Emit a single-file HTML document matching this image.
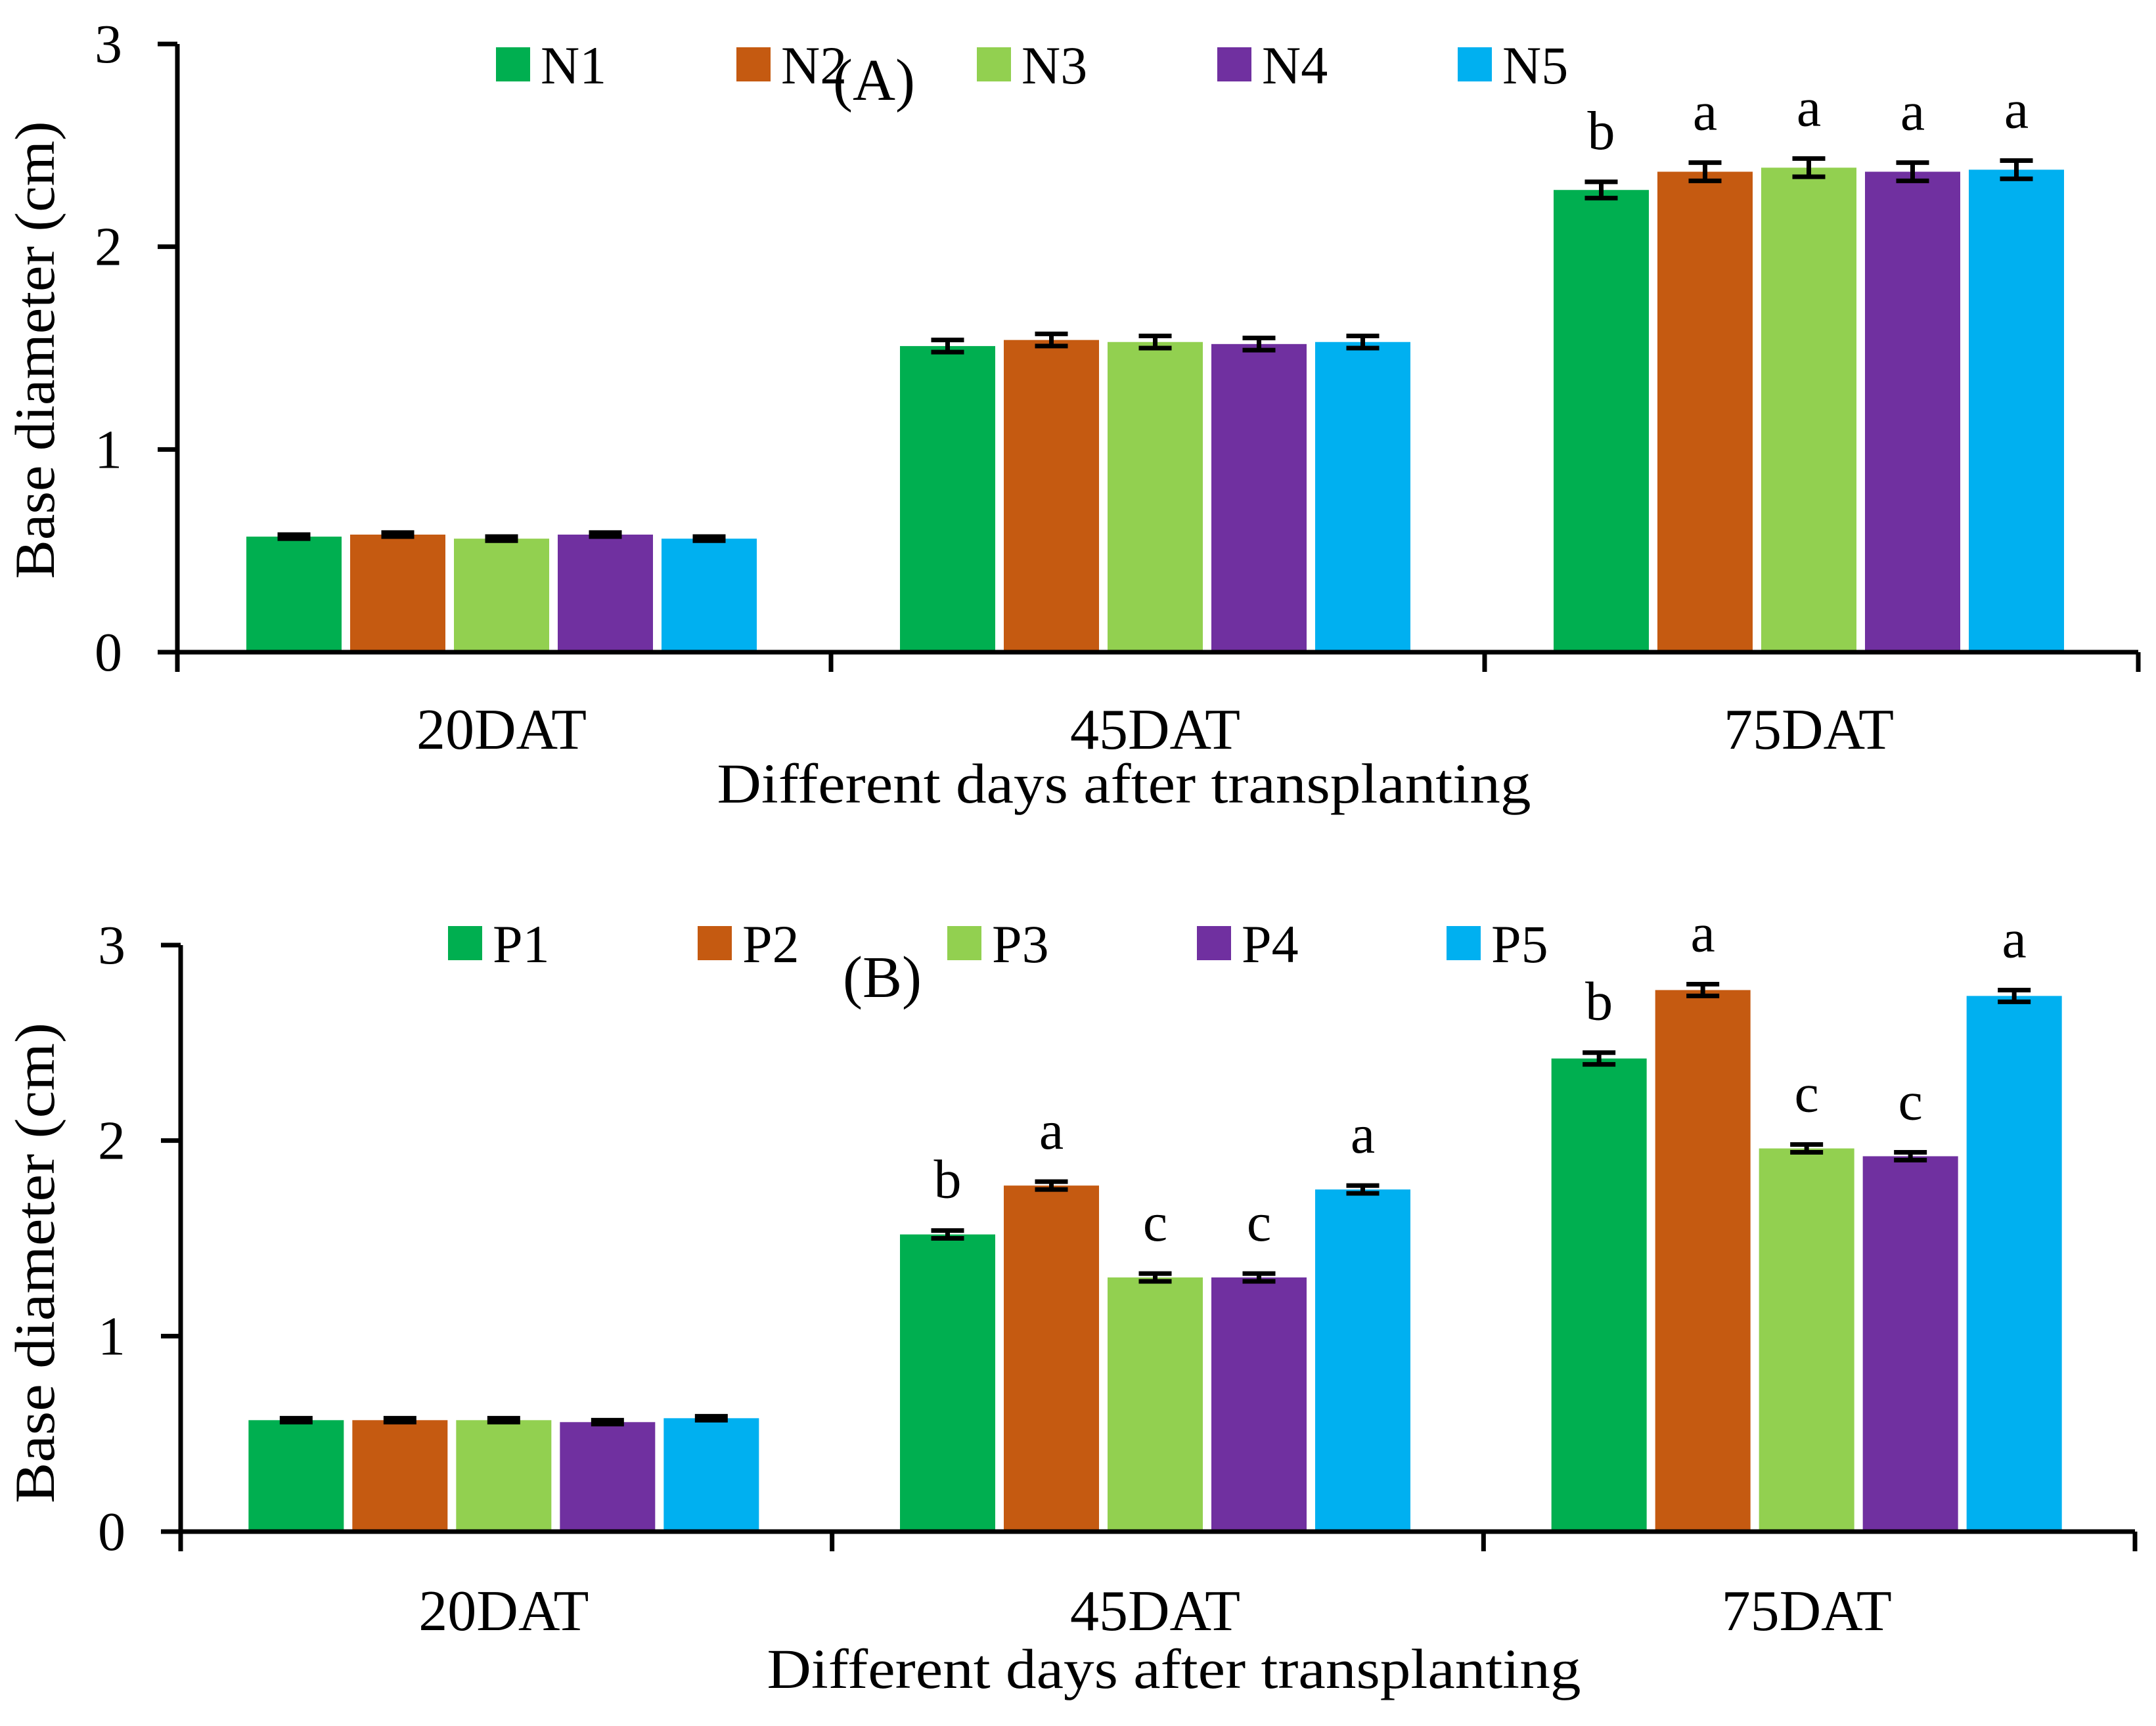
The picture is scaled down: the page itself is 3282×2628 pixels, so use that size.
<!DOCTYPE html>
<html><head><meta charset="utf-8"><style>
html,body{margin:0;padding:0;background:#fff;}
svg text{font-family:"Liberation Serif",serif;fill:#000;}
</style></head><body>
<svg id="chart" xmlns="http://www.w3.org/2000/svg" width="3282" height="2623" viewBox="0 0 3282 2623"></svg>
<script>
const categories = ["20DAT","45DAT","75DAT"];
const colors = ["#00AF50","#C55A11","#92D050","#7030A0","#00B0F0"];
const seriesA = ["N1","N2","N3","N4","N5"];
const valuesA = [[0.57,1.51,2.28],[0.58,1.54,2.37],[0.56,1.53,2.39],[0.58,1.52,2.37],[0.56,1.53,2.38]];
const errorsA = [[0.01,0.03,0.04],[0.01,0.03,0.045],[0.01,0.03,0.045],[0.01,0.03,0.045],[0.01,0.03,0.045]];
const lettersA = [["","","b"],["","","a"],["","","a"],["","","a"],["","","a"]];
const seriesB = ["P1","P2","P3","P4","P5"];
const valuesB = [[0.57,1.52,2.42],[0.57,1.77,2.77],[0.57,1.30,1.96],[0.56,1.30,1.92],[0.58,1.75,2.74]];
const errorsB = [[0.01,0.02,0.03],[0.01,0.02,0.03],[0.01,0.02,0.02],[0.01,0.02,0.02],[0.01,0.02,0.03]];
const lettersB = [["","b","b"],["","a","a"],["","c","c"],["","c","c"],["","a","a"]];
const yTicks = [0,1,2,3];

const NS="http://www.w3.org/2000/svg";
const svg=document.getElementById('chart');
function mk(tag,attrs,parent){const e=document.createElementNS(NS,tag);for(const k in attrs)e.setAttribute(k,attrs[k]);(parent||svg).appendChild(e);return e;}

function panel(p){
  const g=mk('g',{});
  
  
  const y=v=>p.y0-v*(p.y0-p.y3)/3;
  const catW=(p.xR-p.xL)/categories.length;
  const pitch=158, bw=145;
  for(let s=0;s<p.series.length;s++){
    for(let c=0;c<categories.length;c++){
      const cx=p.xL+catW*(c+0.5)-4;
      const x=cx-(4*pitch+bw)/2+s*pitch;
      const v=p.values[s][c], e=p.errors[s][c];
      const r=mk('rect',{x:x,y:y(v),width:bw,height:p.y0-y(v),fill:colors[s]},g);
      
      
      const mx=x+bw/2;
      const eb=mk('path',{d:`M${mx-25},${y(v+e)}H${mx+25}M${mx},${y(v+e)}V${y(v-e)}M${mx-25},${y(v-e)}H${mx+25}`,stroke:'#000','stroke-width':7,fill:'none'},g);
      
      
      const L=p.letters[s][c];
      if(L){const t=mk('text',{x:mx,y:y(v+e)-50,'text-anchor':'middle','font-size':84},g);t.textContent=L;
        
        }
    }
  }
  const ax=mk('path',{d:`M${p.xL},${p.y3}V${p.y0+30}M${p.xL-30},${p.y0}H${p.xR}`,stroke:'#000','stroke-width':7,fill:'none'},g);
  
  
  for(const t of yTicks){
    mk('line',{x1:p.xL-30,x2:p.xL,y1:y(t),y2:y(t),stroke:'#000','stroke-width':7},g);
    const tx=mk('text',{x:p.xL-84,y:y(t)+28,'text-anchor':'end','font-size':84},g);tx.textContent=t;
    
    
  }
  for(let c=0;c<=categories.length;c++){
    mk('line',{x1:p.xL+catW*c,x2:p.xL+catW*c,y1:p.y0,y2:p.y0+30,stroke:'#000','stroke-width':7},g);
  }
  categories.forEach((cat,c)=>{
    const t=mk('text',{x:p.xL+catW*(c+0.5)-4,y:p.catY,'text-anchor':'middle','font-size':88},g);t.textContent=cat;
    
    
  });
  const xt=mk('text',{x:p.xtX,y:p.xtY,'text-anchor':'middle','font-size':86,textLength:1239,lengthAdjust:'spacingAndGlyphs'},g);
  xt.textContent='Different days after transplanting';
  
  
  const yt=mk('text',{x:0,y:0,'text-anchor':'middle','font-size':86,textLength:p.ytLen,lengthAdjust:'spacingAndGlyphs',transform:`translate(${p.ytX},${p.ytY}) rotate(-90)`},g);
  yt.textContent='Base diameter (cm)';
  
  
  p.series.forEach((s,i)=>{
    const lx=p.legX+i*p.legStep;
    const le=mk('g',{},g);
    
    
    mk('rect',{x:lx,y:p.legY-26,width:52,height:52,fill:colors[i]},le);
    const t=mk('text',{x:lx+68,y:p.legY+29,'font-size':82},le);t.textContent=s;
  });
  const pl=mk('text',{x:p.plX,y:p.plY,'font-size':90},g);pl.textContent=p.label;
  
  
}

panel({name:'panel-a',series:seriesA,values:valuesA,errors:errorsA,letters:lettersA,
  xL:270,xR:3255,y0:993,y3:67,catY:1140,xtX:1711,xtY:1222,ytX:82,ytY:533,ytLen:697,
  legX:755,legStep:366,legY:98,label:'(A)',plX:1268,plY:152});
panel({name:'panel-b',series:seriesB,values:valuesB,errors:errorsB,letters:lettersB,
  xL:275,xR:3250,y0:2332,y3:1439,catY:2482,xtX:1787,xtY:2570,ytX:82,ytY:1923,ytLen:732,
  legX:682,legStep:380,legY:1436,label:'(B)',plX:1283,plY:1518});
</script>
</body></html>
